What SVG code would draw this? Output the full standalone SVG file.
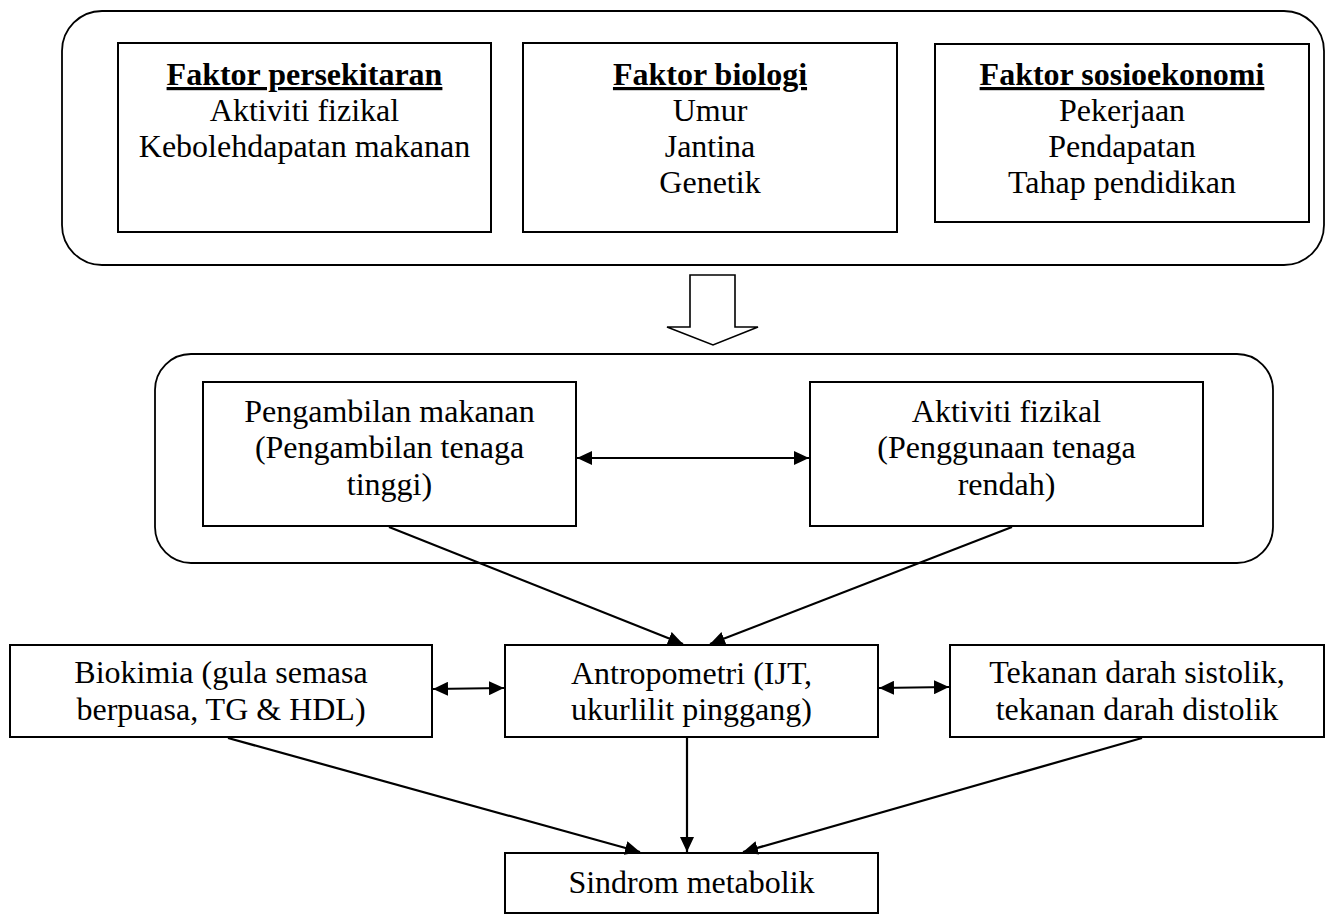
<svg xmlns="http://www.w3.org/2000/svg" width="1331" height="920" viewBox="0 0 1331 920">
<style>
.bg{fill:#fff}
.box{fill:#fff;stroke:#000;stroke-width:2}
.cont{fill:none;stroke:#000;stroke-width:1.8}
.t{font-family:"Liberation Serif","Times New Roman",serif;font-size:32px;fill:#000;text-anchor:middle}
.h{font-weight:bold;text-decoration:underline}
.ln{stroke:#000;stroke-width:2.2;fill:none}
.blk{fill:#fff;stroke:#000;stroke-width:1.6;stroke-linejoin:miter}
</style>
<defs>
<marker id="ah" markerUnits="userSpaceOnUse" markerWidth="16" markerHeight="14" refX="15" refY="7" orient="auto-start-reverse">
<path d="M0,0 L15,7 L0,14 z" fill="#000"/>
</marker>
</defs>
<rect class="bg" x="0" y="0" width="1331" height="920"/>

<g id="factors-container">
<rect class="cont" x="62" y="11" width="1262" height="254" rx="40" ry="40"/>
</g>
<g id="faktor-persekitaran">
<rect class="box" x="118" y="43" width="373" height="189"/>
<text class="t h" x="304.5" y="85">Faktor persekitaran</text>
<text class="t" x="304.5" y="121">Aktiviti fizikal</text>
<text class="t" x="304.5" y="157">Kebolehdapatan makanan</text>
</g>
<g id="faktor-biologi">
<rect class="box" x="523" y="43" width="374" height="189"/>
<text class="t h" x="710" y="85">Faktor biologi</text>
<text class="t" x="710" y="121">Umur</text>
<text class="t" x="710" y="157">Jantina</text>
<text class="t" x="710" y="193">Genetik</text>
</g>
<g id="faktor-sosioekonomi">
<rect class="box" x="935" y="44" width="374" height="178"/>
<text class="t h" x="1122" y="85">Faktor sosioekonomi</text>
<text class="t" x="1122" y="121">Pekerjaan</text>
<text class="t" x="1122" y="157">Pendapatan</text>
<text class="t" x="1122" y="193">Tahap pendidikan</text>
</g>

<g id="energy-container">
<rect class="cont" x="155" y="354" width="1118" height="209" rx="36" ry="36"/>
</g>
<g id="pengambilan-makanan">
<rect class="box" x="203" y="382" width="373" height="144"/>
<text class="t" x="389.5" y="422">Pengambilan makanan</text>
<text class="t" x="389.5" y="458">(Pengambilan tenaga</text>
<text class="t" x="389.5" y="495">tinggi)</text>
</g>
<g id="aktiviti-fizikal">
<rect class="box" x="810" y="382" width="393" height="144"/>
<text class="t" x="1006.5" y="422">Aktiviti fizikal</text>
<text class="t" x="1006.5" y="458">(Penggunaan tenaga</text>
<text class="t" x="1006.5" y="495">rendah)</text>
</g>

<g id="biokimia">
<rect class="box" x="10" y="645" width="422" height="92"/>
<text class="t" x="221" y="683">Biokimia (gula semasa</text>
<text class="t" x="221" y="720">berpuasa, TG &amp; HDL)</text>
</g>
<g id="antropometri">
<rect class="box" x="505" y="645" width="373" height="92"/>
<text class="t" x="691.5" y="684">Antropometri (IJT,</text>
<text class="t" x="691.5" y="720">ukurlilit pinggang)</text>
</g>
<g id="tekanan-darah">
<rect class="box" x="950" y="645" width="374" height="92"/>
<text class="t" x="1137" y="683">Tekanan darah sistolik,</text>
<text class="t" x="1137" y="720">tekanan darah distolik</text>
</g>
<g id="sindrom-metabolik">
<rect class="box" x="505" y="853" width="373" height="60"/>
<text class="t" x="691.5" y="893">Sindrom metabolik</text>
</g>

<g id="connectors">
<path class="blk" d="M690,275 L735,275 L735,327 L758,327 L713,345 L667,327 L690,327 Z"/>
<line class="ln" x1="577" y1="458" x2="809" y2="458" marker-start="url(#ah)" marker-end="url(#ah)"/>
<line class="ln" x1="389" y1="527" x2="683" y2="644" marker-end="url(#ah)"/>
<line class="ln" x1="1012" y1="527" x2="710" y2="644" marker-end="url(#ah)"/>
<line class="ln" x1="433" y1="689" x2="504" y2="688" marker-start="url(#ah)" marker-end="url(#ah)"/>
<line class="ln" x1="879" y1="688" x2="949" y2="687" marker-start="url(#ah)" marker-end="url(#ah)"/>
<line class="ln" x1="228" y1="738" x2="640" y2="852" marker-end="url(#ah)"/>
<line class="ln" x1="687" y1="738" x2="687" y2="852" marker-end="url(#ah)"/>
<line class="ln" x1="1142" y1="738" x2="743" y2="852" marker-end="url(#ah)"/>
</g>
</svg>
